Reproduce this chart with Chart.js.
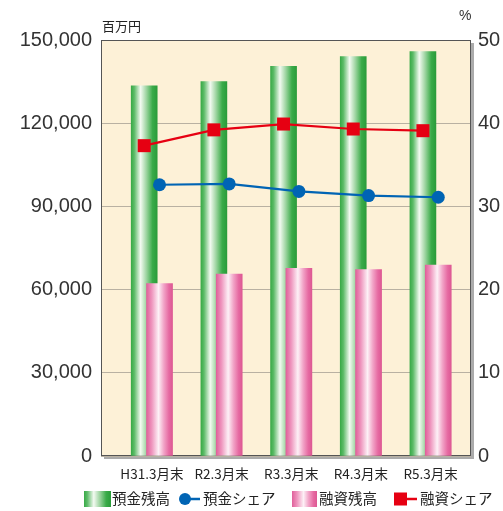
<!DOCTYPE html>
<html>
<head>
<meta charset="utf-8">
<script src="https://cdn.jsdelivr.net/npm/chart.js@4.4.1/dist/chart.umd.min.js"></script>
<style>
  html, body { margin: 0; padding: 0; background: #fff; }
  #wrap { position: relative; width: 503px; height: 511px; overflow: hidden; }
  #chart { position: absolute; left: 0; top: 0; }
  .txt { position: absolute; white-space: nowrap; line-height: 1; color: #222;
         font-family: "Noto Sans CJK JP", "Noto Sans", sans-serif; }
  .box { position: absolute; }
  .green { background: linear-gradient(to right, #38aa47 0%, #5dbb68 12%, #f3faf1 36%, #9fd5a2 58%, #3aab49 82%, #2a9c3a 100%); }
  .pink  { background: linear-gradient(to right, #e0609b 0%, #ee94bd 20%, #fdf0f6 46%, #f2a5c8 66%, #e66aa2 86%, #dd5893 100%); }
</style>
</head>
<body>
<div id="wrap">
  <canvas id="chart" width="503" height="511"></canvas>

  <!-- units -->
  <div class="txt" style="left:102px; top:19px; font-size:13px;">百万円</div>
  <div class="txt" style="left:459px; top:8px; font-size:14px; font-family:'Liberation Sans', Arial, sans-serif; color:#333;">%</div>

  <!-- legend -->
  <div class="box green" style="left:84px; top:491px; width:27px; height:16px;"></div>
  <div class="txt" style="left:112px; top:491px; font-size:14.5px;">預金残高</div>

  <svg style="position:absolute; left:178px; top:491px;" width="24" height="16">
    <line x1="7" y1="8" x2="22" y2="8" stroke="#0064b4" stroke-width="2.5"/>
    <circle cx="7" cy="8" r="6" fill="#0064b4"/>
  </svg>
  <div class="txt" style="left:203px; top:491px; font-size:14.5px;">預金シェア</div>

  <div class="box pink" style="left:292px; top:491px; width:25px; height:16px;"></div>
  <div class="txt" style="left:319px; top:491px; font-size:14.5px;">融資残高</div>

  <svg style="position:absolute; left:394px; top:491px;" width="24" height="16">
    <line x1="12" y1="8" x2="23" y2="8" stroke="#e60012" stroke-width="2.5"/>
    <rect x="0" y="1.5" width="13" height="13" fill="#e60012"/>
  </svg>
  <div class="txt" style="left:420px; top:491px; font-size:14.5px;">融資シェア</div>
</div>

<script>
// Fiscal year-end points
const categories = ['H31.3月末', 'R2.3月末', 'R3.3月末', 'R4.3月末', 'R5.3月末'];

// Balances (million yen)
const depositBalance = [133500, 135000, 140500, 144000, 145800];
const loanBalance    = [62200, 65600, 67700, 67200, 68800];

// Market shares (%)
const depositShare = [32.6, 32.7, 31.8, 31.3, 31.1];
const loanShare    = [37.3, 39.2, 39.9, 39.3, 39.1];

// Axis ticks
const balanceTicks = [0, 30000, 60000, 90000, 120000, 150000];
const shareTicks   = [0, 10, 20, 30, 40, 50];

// Deposit bars sit left of the category centre, loan bars right of it
const SHIFT = 0.11;
const BAR_W = 26;

function barGradient(stops) {
  return function (ctx) {
    const chart = ctx.chart;
    const xs = chart.scales && chart.scales.x;
    if (ctx.type !== 'data' || !xs || !chart.chartArea || !ctx.raw) return stops[0][1];
    const cx = xs.getPixelForValue(ctx.raw.x);
    const g = chart.ctx.createLinearGradient(cx - BAR_W / 2, 0, cx + BAR_W / 2, 0);
    stops.forEach(([p, c]) => g.addColorStop(p, c));
    return g;
  };
}

const greenStops = [[0, '#38aa47'], [0.12, '#5dbb68'], [0.36, '#f3faf1'], [0.58, '#9fd5a2'], [0.82, '#3aab49'], [1, '#2a9c3a']];
const pinkStops  = [[0, '#e0609b'], [0.2, '#ee94bd'], [0.46, '#fdf0f6'], [0.66, '#f2a5c8'], [0.86, '#e66aa2'], [1, '#dd5893']];

// Cream plot panel with a drop shadow, framed on top of the grid
const framePlugin = {
  id: 'frame',
  beforeDraw(chart) {
    const { ctx, chartArea: a } = chart;
    ctx.save();
    ctx.fillStyle = '#ababab';
    ctx.fillRect(a.left + 3, a.top + 3, a.width, a.height);
    ctx.fillStyle = '#fdf1d7';
    ctx.fillRect(a.left, a.top, a.width, a.height);
    ctx.restore();
  },
  beforeDatasetsDraw(chart) {
    const { ctx, chartArea: a } = chart;
    ctx.save();
    ctx.strokeStyle = '#555';
    ctx.lineWidth = 1;
    ctx.strokeRect(a.left + 0.5, a.top + 0.5, a.width - 1, a.height - 1);
    ctx.restore();
  }
};

Chart.defaults.font.family = "'Liberation Sans', Arial, sans-serif";
Chart.defaults.color = '#333';

new Chart(document.getElementById('chart'), {
  type: 'bar',
  data: {
    datasets: [
      {
        type: 'line',
        label: '融資シェア',
        data: loanShare.map((v, i) => ({ x: i - SHIFT, y: v })),
        yAxisID: 'y1',
        borderColor: '#e60012',
        backgroundColor: '#e60012',
        borderWidth: 2.2,
        pointStyle: 'rect',
        pointRadius: 9.2,
        pointBorderWidth: 0,
        tension: 0,
        order: 0
      },
      {
        type: 'line',
        label: '預金シェア',
        data: depositShare.map((v, i) => ({ x: i + SHIFT, y: v })),
        yAxisID: 'y1',
        borderColor: '#0064b4',
        backgroundColor: '#0064b4',
        borderWidth: 2.2,
        pointStyle: 'circle',
        pointRadius: 6.5,
        pointBorderWidth: 0,
        tension: 0,
        order: 0
      },
      {
        label: '融資残高',
        data: loanBalance.map((v, i) => ({ x: i + SHIFT, y: v })),
        yAxisID: 'y',
        backgroundColor: barGradient(pinkStops),
        borderWidth: 0,
        barThickness: BAR_W,
        grouped: false,
        order: 1
      },
      {
        label: '預金残高',
        data: depositBalance.map((v, i) => ({ x: i - SHIFT, y: v })),
        yAxisID: 'y',
        backgroundColor: barGradient(greenStops),
        borderWidth: 0,
        barThickness: BAR_W,
        grouped: false,
        order: 2
      }
    ]
  },
  options: {
    responsive: false,
    devicePixelRatio: 1,
    animation: false,
    events: [],
    layout: { padding: { top: 40, left: 0, right: 0, bottom: 0 } },
    plugins: { legend: { display: false }, tooltip: { enabled: false } },
    scales: {
      x: {
        type: 'linear',
        offset: false,
        min: -0.73,
        max: 4.58,
        grid: { display: false, drawTicks: false },
        border: { display: false },
        afterBuildTicks(scale) { scale.ticks = categories.map((c, i) => ({ value: i })); },
        afterFit(scale) { scale.height = 55; },
        ticks: {
          autoSkip: false,
          maxRotation: 0,
          minRotation: 0,
          padding: 10,
          color: '#222',
          font: { family: "'Noto Sans CJK JP', sans-serif", size: 13.5 },
          callback: (v) => categories[v]
        }
      },
      y: {
        position: 'left',
        min: 0,
        max: 150000,
        grid: { color: '#b9b1a2', lineWidth: 1, drawTicks: false },
        border: { display: false },
        afterBuildTicks(scale) { scale.ticks = balanceTicks.map(v => ({ value: v })); },
        afterFit(scale) { scale.width = 101; },
        ticks: {
          padding: 9,
          font: { size: 20 },
          callback: (v) => v.toLocaleString('en-US')
        }
      },
      y1: {
        position: 'right',
        min: 0,
        max: 50,
        grid: { display: false, drawTicks: false },
        border: { display: false },
        afterBuildTicks(scale) { scale.ticks = shareTicks.map(v => ({ value: v })); },
        afterFit(scale) { scale.width = 32; },
        ticks: {
          padding: 7,
          font: { size: 20 },
          callback: (v) => String(v)
        }
      }
    }
  },
  plugins: [framePlugin]
});
</script>
</body>
</html>
